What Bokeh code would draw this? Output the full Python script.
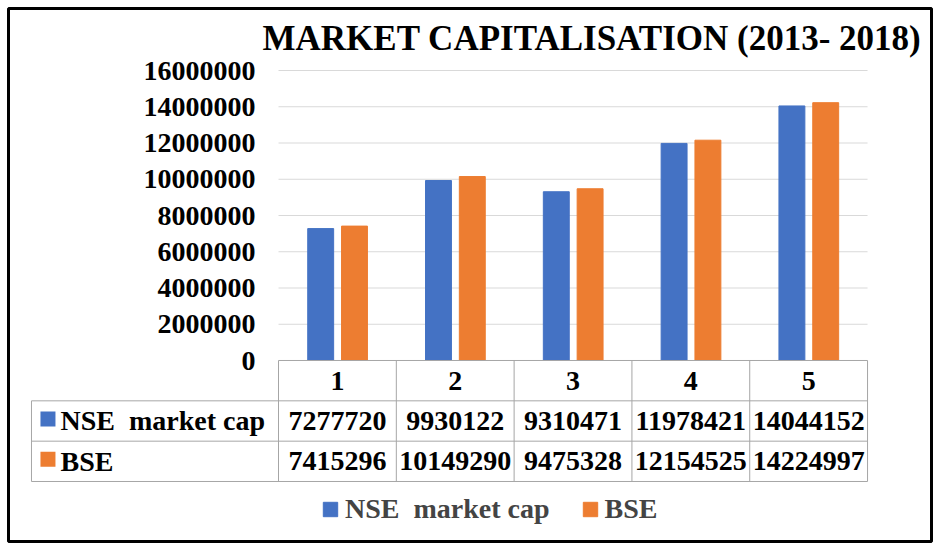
from bokeh.plotting import figure
from bokeh.models import (Range1d, LinearAxis, FixedTicker, Legend, LegendItem,
                          Label, ColumnDataSource, NumeralTickFormatter)
from bokeh.transform import dodge
from bokeh.core.properties import value
from bokeh.embed import file_html
from bokeh.resources import INLINE

# ---------------- data ----------------
categories = ["1", "2", "3", "4", "5"]
nse_values = [7277720, 9930122, 9310471, 11978421, 14044152]
bse_values = [7415296, 10149290, 9475328, 12154525, 14224997]
series_names = ["NSE\u00a0 market cap", "BSE"]
y_ticks = [0, 2000000, 4000000, 6000000, 8000000, 10000000, 12000000, 14000000, 16000000]
title_text = "MARKET CAPITALISATION (2013- 2018)"

# ---------------- style ----------------
BLUE = "#4472C4"
ORANGE = "#ED7D31"
GRID = "#d9d9d9"
TABLE = "#a6a6a6"
FONT = value("Liberation Serif")
FS = "28px"

xs = [i + 1 for i in range(len(categories))]
src = ColumnDataSource(dict(x=xs, cat=categories, nse=nse_values, bse=bse_values,
                            nse_txt=[str(v) for v in nse_values],
                            bse_txt=[str(v) for v in bse_values]))

p = figure(width=933, height=543,
           x_range=Range1d(-1.792, 6.043),
           y_range=Range1d(-9.9862e6, 19.4207e6),
           x_axis_type=None, y_axis_type=None,
           toolbar_location=None, output_backend="svg",
           min_border_left=8, min_border_right=2, min_border_top=8, min_border_bottom=2)
p.outline_line_color = "black"
p.outline_line_width = 3
p.background_fill_color = "white"
p.border_fill_color = "white"
p.extra_y_ranges = {"table": Range1d(4.488, -8.728)}

# gridlines (from tick values)
p.segment(x0=0.5, x1=len(categories) + 0.5, y0=y_ticks[1:], y1=y_ticks[1:],
          line_color=GRID, line_width=1)

# bars
r_nse = p.vbar(x=dodge("x", -0.142), top="nse", bottom=0, width=0.22, source=src,
               fill_color=BLUE, line_color=BLUE)
r_bse = p.vbar(x=dodge("x", 0.145), top="bse", bottom=0, width=0.22, source=src,
               fill_color=ORANGE, line_color=ORANGE)

# y axis
yaxis = LinearAxis(fixed_location=0.5, bounds=(0, 16000000),
                   ticker=FixedTicker(ticks=y_ticks),
                   formatter=NumeralTickFormatter(format="0"))
yaxis.axis_line_color = None
yaxis.major_tick_line_color = None
yaxis.minor_tick_line_color = None
yaxis.major_tick_out = 0
yaxis.major_tick_in = 0
yaxis.major_label_standoff = 23
yaxis.major_label_text_font = "Liberation Serif"
yaxis.major_label_text_font_style = "bold"
yaxis.major_label_text_font_size = FS
yaxis.major_label_text_color = "black"
p.add_layout(yaxis, "left")

# ---------------- data table ----------------
n = len(categories)
x_left = -1.597
# horizontal lines
p.segment(x0=[0.5, x_left, x_left, x_left], x1=[n + 0.5] * 4,
          y0=[0, 1, 2, 3], y1=[0, 1, 2, 3], line_color=TABLE, line_width=1,
          y_range_name="table")
# vertical lines
vx = [i + 0.5 for i in range(n + 1)]
p.segment(x0=vx + [x_left], x1=vx + [x_left], y0=[0] * (n + 1) + [1], y1=[3] * (n + 2),
          line_color=TABLE, line_width=1, y_range_name="table")

txt_kw = dict(text_font=FONT, text_font_style="bold", text_font_size=FS,
              text_color="black", y_range_name="table", text_baseline="middle")
p.text(x="x", y=0.5, text="cat", source=src, text_align="center", **txt_kw)
p.text(x="x", y=1.5, text="nse_txt", source=src, text_align="center", **txt_kw)
p.text(x="x", y=2.5, text="bse_txt", source=src, text_align="center", **txt_kw)
p.text(x=[-1.351, -1.351], y=[1.5, 2.5], text=series_names, text_align="left", **txt_kw)
p.scatter(x=[-1.457, -1.457], y=[1.45, 2.45], marker="square", size=15,
          fill_color=[BLUE, ORANGE], line_color=None, y_range_name="table")

# title
p.add_layout(Label(x=254, y=503, x_units="screen", y_units="screen", text=title_text,
                   text_font="Liberation Serif", text_font_style="bold",
                   text_font_size="35px", text_baseline="middle", text_color="black"))

# legend
legend = Legend(items=[LegendItem(label=series_names[0], renderers=[r_nse]),
                       LegendItem(label=series_names[1], renderers=[r_bse])],
                orientation="horizontal", location=(313, 16),
                glyph_width=18, glyph_height=18, label_standoff=6, spacing=31,
                padding=0, margin=0, border_line_color=None, background_fill_alpha=0,
                label_text_font="Liberation Serif", label_text_font_style="bold",
                label_text_font_size=FS)
p.add_layout(legend)

open("out.html", "w").write(file_html(p, INLINE))
